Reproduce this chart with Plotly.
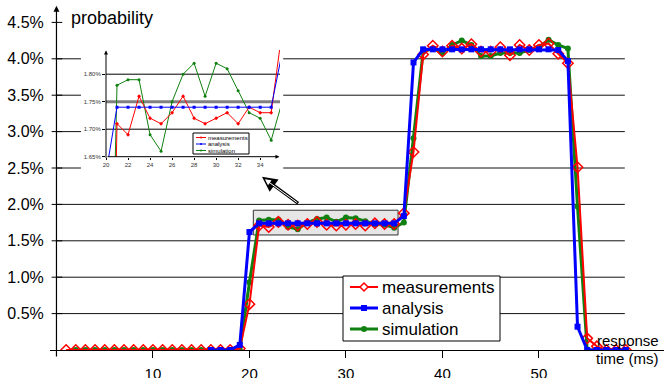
import plotly.graph_objects as go

# ---------------- data ----------------
x_meas = list(range(1, 60))
meas = [0, 0, 0, 0, 0, 0, 0, 0, 0, 0, 0, 0, 0, 0, 0, 0, 0, 0,
        0.02, 0.63, 1.71, 1.69, 1.76, 1.72, 1.71, 1.73, 1.76, 1.72, 1.71, 1.72,
        1.73, 1.71, 1.74, 1.73, 1.73, 1.88, 2.72, 4.06, 4.18, 4.10, 4.18, 4.14,
        4.20, 4.10, 4.10, 4.16, 4.05, 4.19, 4.12, 4.19, 4.21, 4.07, 3.94, 2.51,
        0.16, 0.05, 0, 0, 0]

x_ana = list(range(16, 60))
ana = [0, 0, 0, 0.07, 1.62, 1.74, 1.74, 1.74, 1.74, 1.74, 1.74, 1.74, 1.74,
       1.74, 1.74, 1.74, 1.74, 1.74, 1.74, 1.74, 1.84, 3.95, 4.13, 4.13, 4.13,
       4.13, 4.13, 4.13, 4.13, 4.13, 4.13, 4.13, 4.13, 4.13, 4.13, 4.13, 4.12,
       3.97, 0.32, 0, 0, 0, 0, 0]

x_sim = list(range(2, 60))
sim = [0, 0, 0, 0, 0, 0, 0, 0, 0, 0, 0, 0, 0, 0, 0, 0, 0,
       0, 0.93, 1.78, 1.79, 1.79, 1.69, 1.66, 1.75, 1.80, 1.82, 1.76, 1.82,
       1.81, 1.77, 1.73, 1.72, 1.68, 1.75, 2.91, 4.10, 4.14, 4.08, 4.19, 4.25,
       4.19, 4.04, 4.04, 4.08, 4.08, 4.08, 4.12, 4.16, 4.26, 4.19, 4.14, 1.97,
       0, 0, 0, 0, 0]

y_ticks = [0.5, 1.0, 1.5, 2.0, 2.5, 3.0, 3.5, 4.0, 4.5]
y_tick_text = ["0.5%", "1.0%", "1.5%", "2.0%", "2.5%", "3.0%", "3.5%", "4.0%", "4.5%"]
x_ticks = [10, 20, 30, 40, 50]
inset_x_ticks = [20, 22, 24, 26, 28, 30, 32, 34]
inset_y_ticks = [1.65, 1.70, 1.75, 1.80]
inset_y_text = ["1.65%", "1.70%", "1.75%", "1.80%"]
names = ["measurements", "analysis", "simulation"]

RED, BLUE, GREEN = "#ff0000", "#0000ff", "#108010"
FONT = "Arial, 'Liberation Sans', sans-serif"

# plot-area geometry (pixels) used to place decorations in paper coords
L, R, T, B = 50, 664, 5, 350


def px(x):
    return (x - L) / (R - L)


def py(y):
    return (B - y) / (B - T)


fig = go.Figure()

# main traces (green bottom, red, blue top)
fig.add_trace(go.Scatter(x=x_sim, y=sim, mode="lines+markers", name=names[2],
                         showlegend=False,
                         line=dict(color=GREEN, width=3),
                         marker=dict(symbol="circle", size=6, color=GREEN)))
fig.add_trace(go.Scatter(x=x_meas, y=meas, mode="lines+markers", name=names[0],
                         showlegend=False,
                         line=dict(color=RED, width=2),
                         marker=dict(symbol="diamond-open", size=8, color=RED,
                                     line=dict(width=1.5, color=RED))))
fig.add_trace(go.Scatter(x=x_ana, y=ana, mode="lines+markers", name=names[1],
                         showlegend=False,
                         line=dict(color=BLUE, width=3),
                         marker=dict(symbol="square", size=6, color=BLUE)))


def sub(xs, ys, lo=19, hi=37):
    pts = [(a, b) for a, b in zip(xs, ys) if lo <= a <= hi]
    return [p[0] for p in pts], [p[1] for p in pts]


# inset traces
for xs, ys, col, sym in [(x_sim, sim, GREEN, "circle"),
                         (x_meas, meas, RED, "diamond"),
                         (x_ana, ana, BLUE, "square")]:
    sx, sy = sub(xs, ys)
    fig.add_trace(go.Scatter(x=sx, y=sy, xaxis="x2", yaxis="y2", mode="lines+markers",
                             showlegend=False, line=dict(color=col, width=1),
                             marker=dict(symbol=sym, size=3, color=col)))

shapes = []
# main gridlines (interrupted by the inset)
for v in y_ticks[:-1]:
    if 2.4 < v < 4.2:
        segs = [(0, 2.54), (23.5, 58.9)]
    else:
        segs = [(0, 58.9)]
    for a, b in segs:
        shapes.append(dict(type="line", xref="x", yref="y", x0=a, x1=b, y0=v, y1=v,
                           line=dict(color="#111", width=1), layer="below"))
# ticks crossing y axis
for v in y_ticks:
    shapes.append(dict(type="line", xref="x", yref="y", x0=-0.5, x1=0.6, y0=v, y1=v,
                       line=dict(color="#000", width=1), layer="below"))
# highlight box
shapes.append(dict(type="rect", xref="x", yref="y", x0=20.4, x1=35.4, y0=1.58, y1=1.92,
                   fillcolor="#e6e6e6", line=dict(color="#333", width=1), layer="below"))
# inset gridlines
for v, c, w in [(1.70, "#000", 1), (1.75, "#808080", 3), (1.80, "#000", 1)]:
    shapes.append(dict(type="line", xref="x2", yref="y2", x0=20, x1=35.8, y0=v, y1=v,
                       line=dict(color=c, width=w), layer="below"))

annotations = []

# ---- main legend (manual) ----
shapes.append(dict(type="rect", xref="paper", yref="paper", x0=px(343), x1=px(500),
                   y0=py(341), y1=py(276), line=dict(color="#000", width=1),
                   fillcolor="white", layer="above"))
main_rows = [287, 308, 329]
for yy, col, nm, kind in zip(main_rows, [RED, BLUE, GREEN], names,
                             ["diamond", "square", "circle"]):
    shapes.append(dict(type="line", xref="paper", yref="paper", x0=px(350), x1=px(378),
                       y0=py(yy), y1=py(yy), line=dict(color=col, width=3 if kind != "diamond" else 2),
                       layer="above"))
    cx = 364
    if kind == "diamond":
        path = "M {} {} L {} {} L {} {} L {} {} Z".format(
            px(cx - 4), py(yy), px(cx), py(yy - 4), px(cx + 4), py(yy), px(cx), py(yy + 4))
        shapes.append(dict(type="path", xref="paper", yref="paper", path=path,
                           fillcolor="white", line=dict(color=col, width=1.5), layer="above"))
    elif kind == "square":
        shapes.append(dict(type="rect", xref="paper", yref="paper", x0=px(cx - 3), x1=px(cx + 3),
                           y0=py(yy + 3), y1=py(yy - 3), fillcolor=col,
                           line=dict(color=col, width=0), layer="above"))
    else:
        shapes.append(dict(type="circle", xref="paper", yref="paper", x0=px(cx - 3), x1=px(cx + 3),
                           y0=py(yy + 3), y1=py(yy - 3), fillcolor=col,
                           line=dict(color=col, width=0), layer="above"))
    annotations.append(dict(xref="paper", yref="paper", x=px(380), y=py(yy),
                            xanchor="left", yanchor="middle", text=nm, showarrow=False,
                            font=dict(size=17, color="#000", family=FONT)))

# ---- inset legend (manual) ----
shapes.append(dict(type="rect", xref="paper", yref="paper", x0=px(193), x1=px(249),
                   y0=py(154), y1=py(133), line=dict(color="#000", width=1),
                   fillcolor="white", layer="above"))
rows = [137.5, 144, 150.5]
for yy, col, nm in zip(rows, [RED, BLUE, GREEN], names):
    shapes.append(dict(type="line", xref="paper", yref="paper",
                       x0=px(196), x1=px(206), y0=py(yy), y1=py(yy),
                       line=dict(color=col, width=1), layer="above"))
    shapes.append(dict(type="circle", xref="paper", yref="paper",
                       x0=px(200), x1=px(202), y0=py(yy + 1), y1=py(yy - 1),
                       fillcolor=col, line=dict(color=col, width=0), layer="above"))
    annotations.append(dict(xref="paper", yref="paper", x=px(206), y=py(yy),
                            xanchor="left", yanchor="middle", text=nm, showarrow=False,
                            font=dict(size=6, color="#000", family=FONT)))

# axis arrows
annotations.append(dict(xref="x", yref="y", axref="x", ayref="y", x=0, y=4.73,
                        ax=0, ay=-0.11, text="", showarrow=True, arrowhead=2,
                        arrowsize=1, arrowwidth=1.2, arrowcolor="#000"))
annotations.append(dict(xref="x2", yref="y2", axref="x2", ayref="y2", x=20, y=1.843,
                        ax=20, ay=1.645, text="", showarrow=True, arrowhead=2,
                        arrowsize=0.8, arrowwidth=1, arrowcolor="#000"))
annotations.append(dict(xref="x2", yref="y2", axref="x2", ayref="y2", x=35.75, y=1.65,
                        ax=20, ay=1.65, text="", showarrow=True, arrowhead=2,
                        arrowsize=0.8, arrowwidth=1, arrowcolor="#000"))
# pointer arrow from box to inset (hollow look)
annotations.append(dict(xref="x", yref="y", axref="x", ayref="y", x=21.3, y=2.38,
                        ax=25.2, ay=2.0, text="", showarrow=True, arrowhead=2,
                        arrowsize=1.0, arrowwidth=3, arrowcolor="#000"))
annotations.append(dict(xref="x", yref="y", axref="x", ayref="y", x=21.6, y=2.345,
                        ax=25.1, ay=2.01, text="", showarrow=True, arrowhead=2,
                        arrowsize=1.2, arrowwidth=1, arrowcolor="#fff"))
# texts
annotations.append(dict(xref="paper", yref="paper", x=px(69), y=py(18),
                        xanchor="left", yanchor="middle", text="probability",
                        showarrow=False, font=dict(size=18, color="#000", family=FONT)))
annotations.append(dict(xref="paper", yref="paper", x=px(661), y=py(340),
                        xanchor="right", yanchor="middle", text="response",
                        showarrow=False, font=dict(size=15, color="#000", family=FONT)))
annotations.append(dict(xref="paper", yref="paper", x=px(661), y=py(358),
                        xanchor="right", yanchor="middle", text="time (ms)",
                        showarrow=False, font=dict(size=15, color="#000", family=FONT)))

fig.update_layout(
    width=664, height=378,
    margin=dict(l=L, r=664 - R, t=T, b=378 - B),
    paper_bgcolor="white", plot_bgcolor="rgba(0,0,0,0)",
    font=dict(family=FONT, color="#000"),
    showlegend=False,
    xaxis=dict(range=[-0.67, 62.96], showgrid=False, zeroline=False, showline=True,
               linecolor="#000", linewidth=1, ticks="outside", ticklen=7,
               tickcolor="#000", tickvals=x_ticks, tickfont=dict(size=15),
               ticklabelstandoff=3, automargin=False),
    yaxis=dict(range=[0, 4.739], showgrid=False, zeroline=False, showline=False,
               tickvals=y_ticks, ticktext=y_tick_text, ticks="outside", ticklen=2,
               tickcolor="rgba(0,0,0,0)", tickfont=dict(size=16), automargin=False),
    xaxis2=dict(domain=[px(106), px(280)], anchor="y2",
                range=[20, 35.8], showgrid=False, zeroline=False, showline=False,
                tickvals=inset_x_ticks, ticks="outside", ticklen=2, tickcolor="#000",
                tickfont=dict(size=6, color="#333"), automargin=False),
    yaxis2=dict(domain=[py(156.7), py(50)], anchor="x2",
                range=[1.65, 1.844], showgrid=False, zeroline=False, showline=False,
                tickvals=inset_y_ticks, ticktext=inset_y_text, ticks="outside",
                ticklen=3, tickcolor="#000", tickfont=dict(size=6, color="#333"),
                automargin=False),
    shapes=shapes,
    annotations=annotations,
)

fig.write_html("out.html", config={"displayModeBar": False},
               post_script="document.body.style.margin='0';document.body.style.overflow='hidden';")
